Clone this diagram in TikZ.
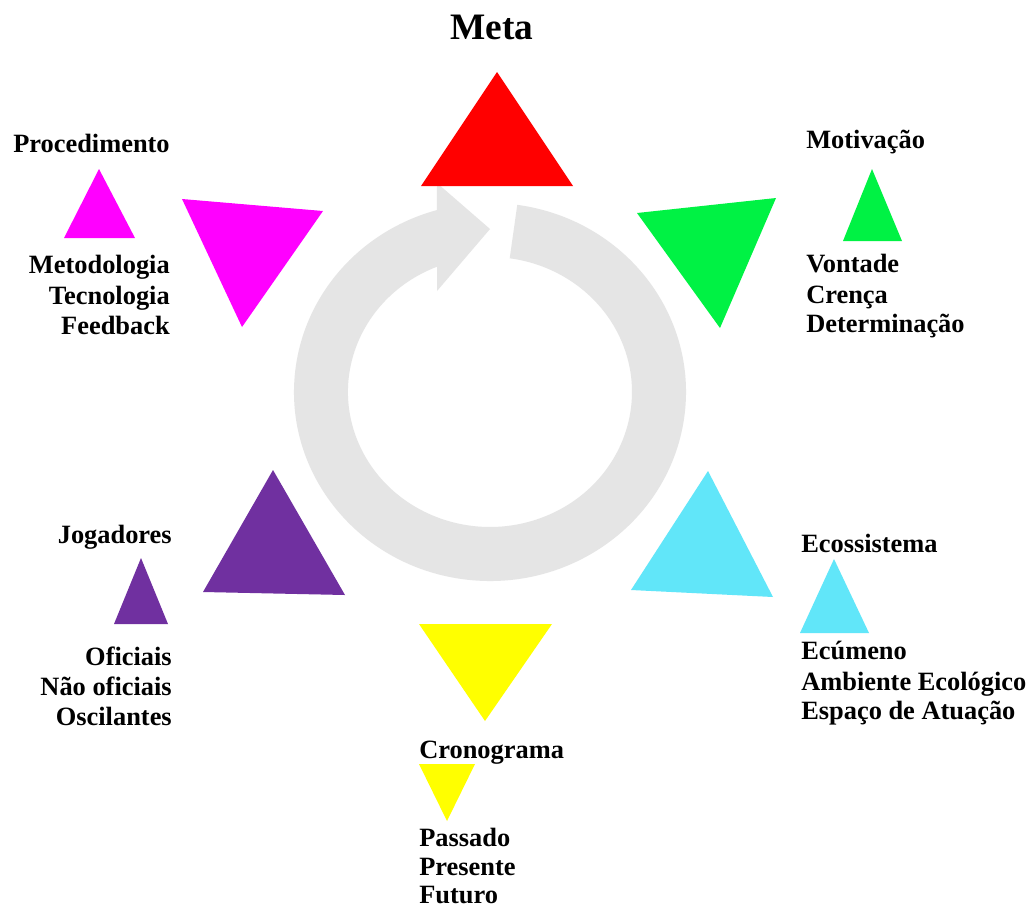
\documentclass[tikz,border=0pt]{standalone}
\usepackage{fontspec}
\setmainfont{Liberation Serif}
\definecolor{ringgray}{RGB}{229,229,229}
\definecolor{cred}{RGB}{255,0,0}
\definecolor{cgreen}{RGB}{0,242,68}
\definecolor{ccyan}{RGB}{97,230,249}
\definecolor{cyellow}{RGB}{255,255,0}
\definecolor{cpurple}{RGB}{112,48,160}
\definecolor{cmagenta}{RGB}{255,0,255}
\tikzset{
  lbl/.style={inner sep=0pt, font=\fontsize{19.8}{22.9}\selectfont\bfseries},
  lw/.style={lbl, anchor=base west},
  le/.style={lbl, anchor=base east},
}
\begin{document}
\begin{tikzpicture}[x=0.75pt,y=-0.75pt]
\useasboundingbox (0,0) rectangle (1032,908);
\fill[white] (0,0) rectangle (1032,908);
% ring arrow
\begin{scope}[shift={(490,392)}, yscale=-1]
\fill[ringgray] (82:196 and 189)
  arc[start angle=82, end angle=-254.3, x radius=196, y radius=189]
  -- (-53,209) -- (0,163) -- (-53,101) -- (-53,125.3)
  arc[start angle=-248.1, end angle=82, x radius=142, y radius=135]
  -- cycle;
\end{scope}
% big triangles
\fill[cred] (497,72) -- (573,186) -- (421,186) -- cycle;
\fill[cgreen] (637,213) -- (776,198) -- (720,328) -- cycle;
\fill[ccyan] (708,471) -- (773,597) -- (631,590) -- cycle;
\fill[cyellow] (419,624) -- (552,624) -- (485,721) -- cycle;
\fill[cpurple] (273,470) -- (345,595) -- (203,592) -- cycle;
\fill[cmagenta] (182,199) -- (323,211) -- (242,327) -- cycle;
% small triangles
\fill[cmagenta] (99,169) -- (135,238) -- (64,238) -- cycle;
\fill[cgreen] (872,169) -- (902,241) -- (843,241) -- cycle;
\fill[ccyan] (834,559) -- (869,633) -- (800,633) -- cycle;
\fill[cpurple] (141,558) -- (168,624) -- (114,624) -- cycle;
\fill[cyellow] (419,764) -- (475,764) -- (447,821) -- cycle;
% texts
\node[inner sep=0pt, anchor=base, font=\fontsize{28}{32}\selectfont\bfseries] (meta) at (492,39) {Meta};
\node[lw] (proc) at (13,152) {Procedimento};
\node[le] (proc1) at (170,273) {Metodologia};
\node[le] (proc2) at (170,304) {Tecnologia};
\node[le] (proc3) at (170,334) {Feedback};
\node[lw] (mot) at (806,148) {Motivação};
\node[lw] (mot1) at (806,272) {Vontade};
\node[lw] (mot2) at (806,303) {Crença};
\node[lw] (mot3) at (806,332) {Determinação};
\node[lw] (eco) at (801,552) {Ecossistema};
\node[lw] (eco1) at (801,659) {Ecúmeno};
\node[lw] (eco2) at (801,690) {Ambiente Ecológico};
\node[lw] (eco3) at (801,719) {Espaço de Atuação};
\node[le] (jog) at (172,543) {Jogadores};
\node[le] (jog1) at (172,665) {Oficiais};
\node[le] (jog2) at (172,695) {Não oficiais};
\node[le] (jog3) at (172,725) {Oscilantes};
\node[lw] (cro) at (419,758) {Cronograma};
\node[lw] (cro1) at (419,846) {Passado};
\node[lw] (cro2) at (419,875) {Presente};
\node[lw] (cro3) at (419,903) {Futuro};
\end{tikzpicture}
\end{document}
